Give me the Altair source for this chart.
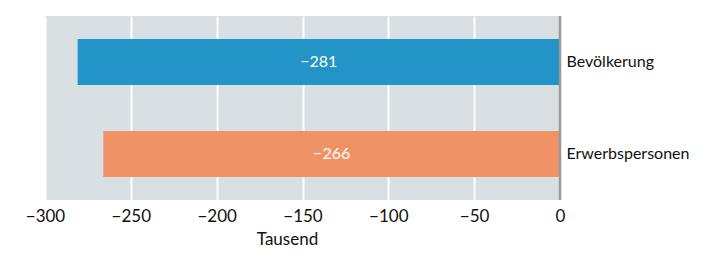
import altair as alt
import pandas as pd

categories = ["Bevölkerung", "Erwerbspersonen"]
values = [-281, -266]
colors = ["#2394c8", "#f09266"]
labels = ["−281", "−266"]

df = pd.DataFrame({"cat": categories, "val": values, "color": colors, "label": labels})

FONT = "Lato"

x = alt.X("val:Q", scale=alt.Scale(domain=[-300, 0], nice=False),
          axis=alt.Axis(values=[-300, -250, -200, -150, -100, -50, 0],
                        labelExpr="replace(format(datum.value, 'd'), '-', '−')",
                        labelFlush=False, labelOverlap=False,
                        title="Tausend", titleX=242, titleFontWeight="normal",
                        titleFontSize=17, titlePadding=7, labelFontSize=17,
                        labelPadding=8, domain=False, ticks=False,
                        grid=True, gridColor="white", gridWidth=2,
                        labelColor="#111", titleColor="#111", labelFont=FONT, titleFont=FONT))
y = alt.Y("cat:N", sort=categories,
          scale=alt.Scale(paddingInner=0.5, paddingOuter=0.25),
          axis=alt.Axis(orient="right", title=None, domain=False, ticks=False,
                        labelFontSize=16, labelPadding=6, labelColor="#111",
                        labelFont=FONT, labelLimit=300, grid=False))

bars = alt.Chart(df).mark_bar().encode(
    x=x, y=y, color=alt.Color("color:N", scale=None))

text = alt.Chart(df).transform_calculate(mid="datum.val / 2").mark_text(
    color="white", fontSize=16, font=FONT).encode(
    x=alt.X("mid:Q"), y=alt.Y("cat:N", sort=categories), text="label:N")

zero = alt.Chart(pd.DataFrame({"z": [0]})).mark_rule(color="#999999", strokeWidth=2.5).encode(
    x="z:Q")

chart = alt.layer(bars, text, zero).properties(
    width=515, height=184,
    autosize=alt.AutoSizeParams(type="none"),
    padding={"left": 37, "top": 8, "right": 133, "bottom": 52},
).configure_view(fill="#d9e0e3", stroke=None)

chart.save("out.html", embed_options={"renderer": "svg", "actions": False})
